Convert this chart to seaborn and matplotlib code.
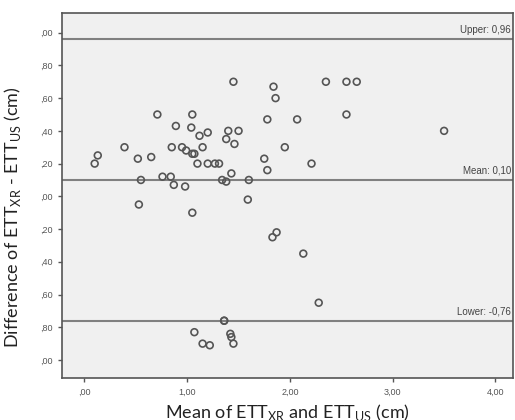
import pandas as pd
import seaborn as sns
import matplotlib.pyplot as plt

# mean of the two measurements (x) and their difference (y)
mean_vals = [0.10, 0.13, 0.39, 0.52, 0.55, 0.53, 0.65, 0.71, 0.76, 0.84,
             0.85, 0.87, 0.89, 0.95, 0.98, 0.99, 1.05, 1.04, 1.05, 1.07,
             1.05, 1.10, 1.12, 1.15, 1.20, 1.20, 1.27, 1.31, 1.34, 1.38,
             1.38, 1.40, 1.43, 1.45, 1.46, 1.50, 1.60, 1.59, 1.78, 1.84,
             1.86, 1.75, 1.78, 1.95, 2.07, 2.21, 2.35, 2.55, 2.65, 2.55,
             3.50, 1.83, 1.87, 2.13, 2.28, 1.36, 1.36, 1.07, 1.15, 1.22,
             1.42, 1.43, 1.45]
diff_vals = [0.20, 0.25, 0.30, 0.23, 0.10, -0.05, 0.24, 0.50, 0.12, 0.12,
             0.30, 0.07, 0.43, 0.30, 0.06, 0.28, 0.50, 0.42, 0.26, 0.26,
             -0.10, 0.20, 0.37, 0.30, 0.39, 0.20, 0.20, 0.20, 0.10, 0.09,
             0.35, 0.40, 0.14, 0.70, 0.32, 0.40, 0.10, -0.02, 0.47, 0.67,
             0.60, 0.23, 0.16, 0.30, 0.47, 0.20, 0.70, 0.70, 0.70, 0.50,
             0.40, -0.25, -0.22, -0.35, -0.65, -0.76, -0.76, -0.83, -0.90, -0.91,
             -0.84, -0.86, -0.90]

upper, mean_diff, lower = 0.96, 0.10, -0.76
ref_labels = ["Upper: 0,96", "Mean: 0,10", "Lower: -0,76"]

x_ticks = [0, 1, 2, 3, 4]
x_ticklabels = [",00", "1,00", "2,00", "3,00", "4,00"]
y_ticks = [1.0, 0.8, 0.6, 0.4, 0.2, 0.0, -0.2, -0.4, -0.6, -0.8, -1.0]
y_ticklabels = [",00", ",80", ",60", ",40", ",20", ",00", ",20", ",40", ",60", ",80", ",00"]

df = pd.DataFrame({"mean": mean_vals, "diff": diff_vals})

sns.set_style("ticks")
plt.rcParams["font.family"] = ["Liberation Sans", "DejaVu Sans"]

fig = plt.figure(figsize=(5.15, 4.2), dpi=100)
ax = fig.add_axes([0.12, 0.10, 0.876, 0.869])
ax.set_facecolor("#f0f0f0")

sns.scatterplot(data=df, x="mean", y="diff", ax=ax, marker="o", s=24,
                facecolor="none", edgecolor="#555555", linewidth=1.2, zorder=3)

for val, lab in zip([upper, mean_diff, lower], ref_labels):
    ax.axhline(val, color="#808080", lw=1.5, zorder=2)
    ax.text(4.15, val + 0.025, lab, ha="right", va="bottom",
            fontsize=7, color="#444444")

ax.set_xlim(-0.22, 4.17)
ax.set_ylim(-1.11, 1.12)
ax.set_xticks(x_ticks)
ax.set_xticklabels(x_ticklabels)
ax.set_yticks(y_ticks)
ax.set_yticklabels(y_ticklabels)
ax.tick_params(labelsize=6.5, colors="#555555", length=3, width=1)
ax.tick_params(axis="x", pad=4)

for sp in ax.spines.values():
    sp.set_color("#555555")
    sp.set_linewidth(1.2)

lab_font = dict(fontsize=13, family=["Lato", "DejaVu Sans"], color="#222222")
ax.set_xlabel(r"Mean of ETT$_{\mathregular{XR}}$ and ETT$_{\mathregular{US}}$ (cm)",
              labelpad=4, **lab_font)
ax.set_ylabel(r"Difference of ETT$_{\mathregular{XR}}$ - ETT$_{\mathregular{US}}$ (cm)",
              labelpad=12, y=0.44, **lab_font)

fig.savefig("out.png", dpi=100, facecolor="white")
